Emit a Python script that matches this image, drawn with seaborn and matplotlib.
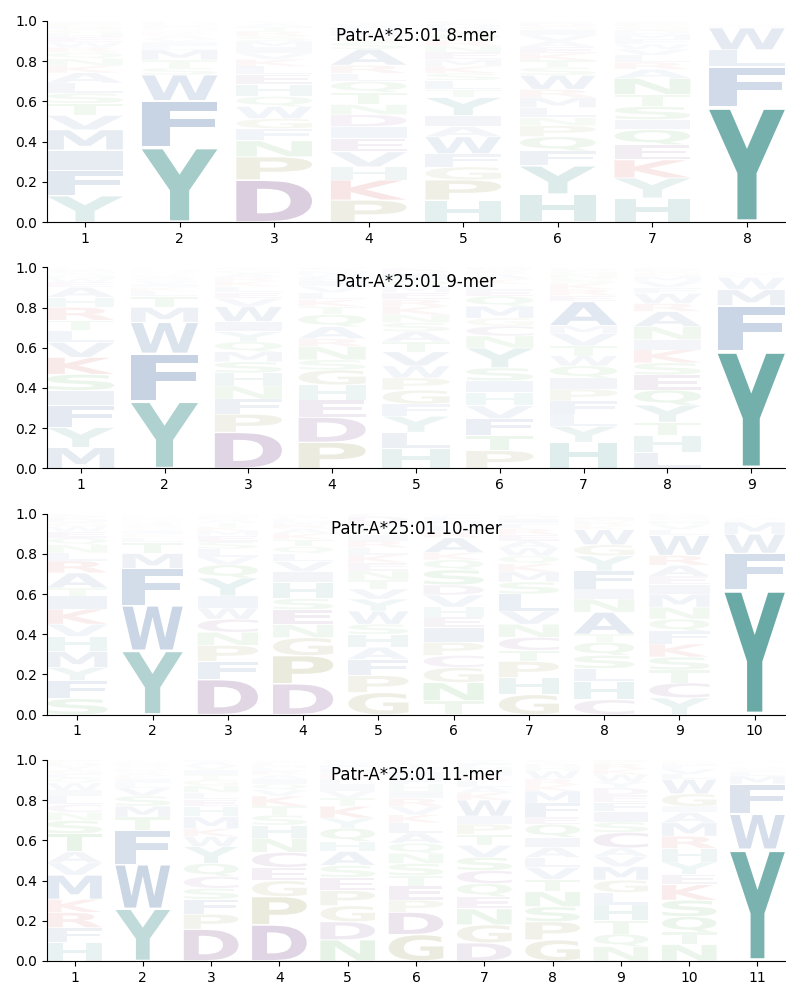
import numpy as np
import matplotlib
matplotlib.use("Agg")
import matplotlib.pyplot as plt
import seaborn as sns
from matplotlib.textpath import TextPath
from matplotlib.patches import PathPatch
from matplotlib.font_manager import FontProperties
from matplotlib.transforms import Affine2D

sns.set_style("ticks", {"axes.edgecolor": "black", "xtick.color": "black",
                        "ytick.color": "black", "text.color": "black"})
plt.rcParams["font.family"] = ["DejaVu Sans"]

# residue colour groups
COLORS = {}
for aa in "YH":
    COLORS[aa] = "#0f7670"
for aa in "FWMILVA":
    COLORS[aa] = "#15488c"
for aa in "DEC":
    COLORS[aa] = "#581a6b"
for aa in "PG":
    COLORS[aa] = "#6b6b10"
for aa in "KR":
    COLORS[aa] = "#c41010"
for aa in "NSTQ":
    COLORS[aa] = "#108a10"

# ---------------------------------------------------------------
# Letter stacks per position (bottom -> top) and their frequencies
# ---------------------------------------------------------------
mer8_letters = [
    "YFIMVTSLAKNQRWEHGDPC",
    "YFWSTMLIVAKRQNEGHPDC",
    "DPNFGWQHELKVIMSRTAYC",
    "PKHVEIDNTQLRASGMFWYC",
    "HPGFWAIYTLSKMENRQVDC",
    "HYFQPNLMRWSTKEAVIGDC",
    "HYKEQISTNARLVWFMDGPC",
    "YFLWMIVHATSNQKREDGPC",
]
mer8_probs = [
    [.13, .125, .10, .10, .07, .06, .05, .05, .05, .035, .035, .03, .025, .025, .025, .02, .02, .015, .015, .01],
    [.375, .235, .13, .035, .04, .05, .02, .02, .015, .015, .01, .01, .01, .01, .008, .008, .007, .006, .004, .002],
    [.21, .115, .08, .06, .05, .06, .05, .06, .05, .04, .035, .03, .03, .03, .025, .025, .02, .015, .01, .005],
    [.11, .10, .065, .075, .065, .06, .06, .05, .06, .055, .04, .04, .08, .035, .03, .025, .02, .015, .01, .005],
    [.11, .10, .065, .065, .085, .05, .055, .09, .04, .045, .035, .035, .035, .035, .03, .03, .03, .03, .02, .015],
    [.14, .14, .075, .07, .055, .04, .05, .05, .04, .07, .04, .035, .035, .03, .03, .03, .025, .02, .015, .01],
    [.12, .10, .09, .075, .075, .05, .065, .06, .08, .045, .035, .035, .03, .025, .025, .025, .02, .02, .015, .01],
    [.575, .20, .085, .11, .008, .004, .004, .003, .002, .002, .002, .001, .001, .001, .001, .001, .001, .001, .001, .001],
]

mer9_letters = [
    "MYFISKVLTRHAEWNQGDPC",
    "YFWMTLKIVSARQNHEGPDC",
    "DPFNHSMQYIWVELKRAGTC",
    "PDEHGSNRAQTKLVIFWMYC",
    "HLYFGPWVTASNKREMQIDC",
    "PTFVHISYNCGMQELKARWD",
    "HYLFPIQWTVMAERKSNGDC",
    "LHTYQESKINARWFVMGPDC",
    "YFMWLIVHATSKRQNEDGPC",
]
mer9_probs = [
    [.105, .10, .11, .075, .08, .085, .075, .06, .05, .065, .05, .05, .025, .02, .015, .01, .01, .01, .005, .005],
    [.335, .24, .155, .075, .055, .025, .02, .015, .015, .01, .01, .01, .008, .007, .006, .005, .005, .004, .003, .002],
    [.18, .09, .075, .065, .065, .055, .05, .05, .05, .05, .075, .04, .03, .03, .025, .02, .02, .015, .01, .005],
    [.13, .125, .085, .075, .075, .05, .065, .04, .06, .06, .04, .035, .035, .03, .025, .02, .015, .015, .01, .01],
    [.10, .08, .08, .06, .07, .06, .06, .07, .05, .05, .045, .04, .04, .035, .035, .03, .03, .03, .025, .01],
    [.09, .075, .085, .065, .065, .06, .065, .10, .06, .05, .04, .06, .05, .03, .03, .025, .025, .015, .01, .01],
    [.13, .08, .06, .065, .06, .055, .06, .05, .05, .06, .04, .12, .03, .03, .03, .025, .02, .02, .01, .005],
    [.08, .085, .065, .085, .075, .075, .06, .065, .05, .065, .075, .04, .05, .03, .03, .025, .02, .01, .01, .005],
    [.585, .225, .08, .06, .01, .008, .006, .005, .004, .003, .003, .002, .002, .002, .001, .001, .001, .001, .001, .001],
]

mer10_letters = [
    "SFYMHVKITARLNQEWGDPC",
    "YWFMTLKIVSARQNHEGPDC",
    "DFPNCWIYQVLSEMKTARHG",
    "DPGNESHIVLQTKARMFWYC",
    "GPFAHSWYVTNEKLRIQMDC",
    "TNGCPIEHVDSQKARLMFWY",
    "GHPTCNVLSMKQWAERFIDY",
    "CHLSQTANIFYGWKRMEVDP",
    "YCTSKFQNMIEARWLVHGDP",
    "YFWMLIVHATSKRQNEDGPC",
]
mer10_probs = [
    [.08, .09, .065, .08, .075, .06, .075, .065, .04, .075, .06, .04, .04, .035, .03, .025, .02, .02, .015, .01],
    [.32, .225, .185, .075, .055, .025, .015, .015, .012, .012, .01, .01, .008, .008, .007, .006, .005, .004, .004, .003],
    [.175, .09, .08, .065, .065, .055, .06, .09, .065, .04, .04, .035, .03, .025, .02, .02, .015, .01, .01, .01],
    [.155, .14, .09, .065, .075, .055, .08, .055, .05, .04, .035, .035, .03, .025, .02, .015, .015, .01, .01, .005],
    [.11, .085, .08, .06, .065, .05, .065, .06, .05, .045, .045, .04, .04, .035, .035, .03, .03, .03, .03, .015],
    [.07, .09, .075, .06, .065, .075, .05, .05, .06, .05, .075, .05, .035, .075, .03, .03, .025, .02, .01, .005],
    [.10, .085, .08, .055, .065, .065, .065, .085, .06, .05, .04, .04, .04, .035, .03, .03, .025, .025, .015, .01],
    [.075, .09, .065, .065, .065, .04, .11, .065, .05, .09, .075, .055, .075, .02, .02, .015, .01, .005, .005, .005],
    [.085, .075, .065, .065, .065, .065, .06, .06, .065, .05, .04, .055, .05, .10, .03, .025, .02, .015, .01, .01],
    [.62, .18, .095, .06, .008, .006, .005, .004, .003, .003, .002, .002, .002, .001, .001, .001, .001, .001, .001, .001],
]

mer11_letters = [
    "HFRKMVATSNCLIWQEGYDP",
    "YWFTMSVLIKARNQHEGPDC",
    "DPFSCQYWKMHELNGTIVAR",
    "DPGECNHSTKVQIARLMFWY",
    "NDGPESAHQYKTVILRMFWC",
    "GDPETSNQALKVRIHFMWYC",
    "DGNEQCSVTPIWKALRMHFY",
    "GPSNTVLAIQEFMKRWHDYC",
    "NQTHLGMVACSIFEDYWKRP",
    "NTQSKEYHRMAIGWLVFDPC",
    "YWFMLIVHATSKRQNEDGPC",
]
mer11_probs = [
    [.09, .075, .075, .065, .12, .06, .055, .09, .065, .04, .04, .04, .03, .035, .025, .02, .02, .02, .015, .015],
    [.26, .22, .17, .065, .055, .05, .04, .025, .02, .015, .015, .012, .01, .01, .01, .008, .007, .005, .002, .001],
    [.16, .075, .075, .055, .06, .065, .085, .05, .04, .06, .05, .035, .035, .035, .03, .025, .025, .02, .02, .01],
    [.18, .14, .08, .065, .075, .07, .065, .05, .045, .05, .03, .03, .025, .02, .02, .015, .015, .01, .01, .005],
    [.105, .09, .08, .075, .065, .06, .07, .05, .065, .05, .06, .04, .035, .03, .03, .025, .025, .02, .015, .01],
    [.13, .11, .06, .07, .05, .06, .05, .05, .05, .05, .04, .04, .04, .035, .035, .03, .03, .025, .02, .015],
    [.09, .09, .08, .06, .065, .065, .065, .06, .055, .05, .04, .08, .035, .03, .03, .025, .025, .02, .02, .015],
    [.105, .09, .075, .075, .06, .06, .05, .05, .05, .065, .035, .07, .06, .03, .03, .04, .02, .015, .01, .01],
    [.07, .06, .065, .075, .06, .06, .065, .05, .04, .075, .05, .05, .045, .035, .035, .03, .035, .025, .025, .02],
    [.08, .06, .075, .08, .075, .05, .06, .065, .06, .065, .05, .03, .06, .07, .025, .025, .02, .01, .01, .005],
    [.555, .175, .15, .04, .02, .008, .008, .007, .005, .005, .004, .004, .003, .003, .003, .003, .002, .002, .002, .001],
]

PANELS = [
    ("Patr-A*25:01 8-mer", mer8_letters, mer8_probs),
    ("Patr-A*25:01 9-mer", mer9_letters, mer9_probs),
    ("Patr-A*25:01 10-mer", mer10_letters, mer10_probs),
    ("Patr-A*25:01 11-mer", mer11_letters, mer11_probs),
]

GLYPH_FONT = FontProperties(family="DejaVu Sans", weight="bold")
LETTER_WIDTH = 0.8
VPAD = 0.05


def draw_letter(ax, ch, xc, y0, h, color, alpha):
    path = TextPath((0, 0), ch, size=1, prop=GLYPH_FONT)
    ext = path.get_extents()
    hh = h * (1 - VPAD)
    tr = (Affine2D().translate(-ext.x0, -ext.y0)
          .scale(LETTER_WIDTH / ext.width, hh / ext.height)
          .translate(xc - LETTER_WIDTH / 2, y0 + h * VPAD / 2))
    ax.add_patch(PathPatch(tr.transform_path(path), facecolor=color,
                           edgecolor="none", alpha=alpha))


fig, axes = plt.subplots(4, 1, figsize=(8, 10), dpi=100)
plt.subplots_adjust(left=0.059, right=0.981, top=0.979, bottom=0.039, hspace=0.224)

for ax, (title, letters, probs) in zip(axes, PANELS):
    for pos, (col_letters, col_probs) in enumerate(zip(letters, probs), start=1):
        p = np.array(col_probs, dtype=float)
        p = p / p.sum()
        bottom = 0.0
        for ch, h in zip(col_letters, p):
            draw_letter(ax, ch, pos, bottom, h, COLORS[ch], min(1.0, h))
            bottom += h
    n = len(letters)
    ax.set_xlim(1 - LETTER_WIDTH / 2, n + LETTER_WIDTH / 2)
    ax.set_ylim(0, 1)
    ax.set_xticks(range(1, n + 1))
    ax.set_yticks(np.arange(0, 1.01, 0.2))
    ax.text(0.5, 0.925, title, transform=ax.transAxes, ha="center", va="center", fontsize=12)
    sns.despine(ax=ax)

fig.savefig("out.png", dpi=100)
